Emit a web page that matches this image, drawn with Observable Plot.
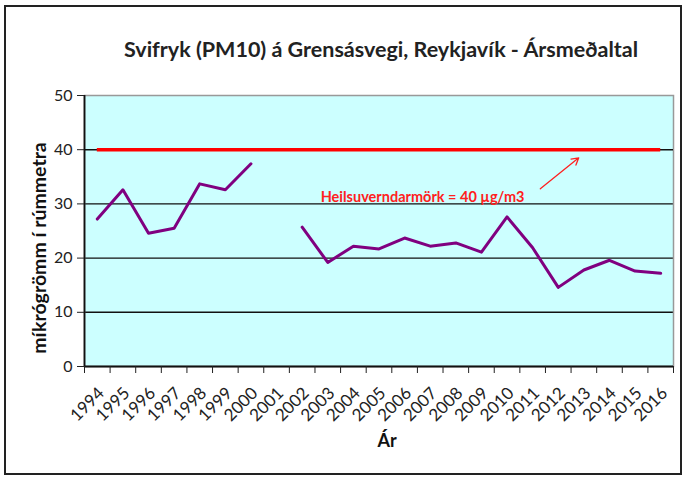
<!DOCTYPE html>
<html><head><meta charset="utf-8">
<script src="https://cdn.jsdelivr.net/npm/d3@7"></script>
<script src="https://cdn.jsdelivr.net/npm/@observablehq/plot@0.6"></script>
<style>
body{margin:0;background:#fff;}
#wrap{position:relative;width:686px;height:477px;overflow:hidden;}
#border{position:absolute;left:4px;top:5px;width:674px;height:466px;border:2px solid #222;pointer-events:none;}
</style></head><body>
<div id="wrap"><div id="chart"></div><div id="border"></div></div>
<script>
const years = [1994,1995,1996,1997,1998,1999,2000,2001,2002,2003,2004,2005,2006,2007,2008,2009,2010,2011,2012,2013,2014,2015,2016];
const pm10 = [27.2,32.6,24.6,25.5,33.7,32.6,37.4,null,25.7,19.2,22.2,21.7,23.7,22.2,22.8,21.1,27.6,21.9,14.6,17.8,19.6,17.6,17.2];
const limitValue = 40;
const yTicks = [0,10,20,30,40,50];
const gridValues = [10,20,30];
const titleText = "Svifryk (PM10) á Grensásvegi, Reykjavík - Ársmeðaltal";
const yLabel = "míkrógrömm í rúmmetra";
const xLabel = "Ár";
const noteText = "Heilsuverndarmörk = 40 µg/m3";
const notePos = [2006.7, 31.2];
const arrowFrom = [2011.3, 32.8];
const arrowTo = [2012.8, 38.5];

const data = years.map((year, i) => ({year, value: pm10[i]}));
const bounds = years.map(y => y - 0.5).concat([years[years.length - 1] + 0.5]);

const chart = Plot.plot({
  width: 686,
  height: 477,
  marginLeft: 84,
  marginRight: 13,
  marginTop: 95,
  marginBottom: 111,
  style: {fontFamily: "Lato, 'Open Sans', sans-serif", color: "#222", background: "transparent"},
  x: {domain: [years[0] - 0.5, years[years.length - 1] + 0.5]},
  y: {domain: [0, 50]},
  marks: [
    Plot.frame({fill: "#ccffff", stroke: null}),
    Plot.ruleY(gridValues, {stroke: "#111", strokeWidth: 1.4}),
    Plot.frame({stroke: "#999", strokeWidth: 1.5}),
    Plot.ruleY([limitValue], {x1: years[0] - 0.5, x2: years[years.length - 1] + 0.5, stroke: "#111", strokeWidth: 1.4}),
    Plot.ruleY([limitValue], {x1: years[0], x2: years[years.length - 1], stroke: "#ff0000", strokeWidth: 3.5}),
    Plot.line(data, {x: "year", y: "value", stroke: "#800080", strokeWidth: 3}),
    Plot.text([noteText], {x: () => notePos[0], y: () => notePos[1], text: d => d, fill: "#ff2020", fontSize: 14.5, fontWeight: "bold"}),
    Plot.arrow([0], {x1: () => arrowFrom[0], y1: () => arrowFrom[1], x2: () => arrowTo[0], y2: () => arrowTo[1], stroke: "#ff2020", strokeWidth: 1.3, headLength: 9}),
    Plot.ruleX([years[0] - 0.5], {stroke: "#111", strokeWidth: 1.8}),
    Plot.ruleY([0], {stroke: "#111", strokeWidth: 1.8}),
    Plot.axisY({ticks: yTicks, tickSize: 7, tickPadding: 5, fontSize: 16, label: null, tickFormat: d => String(d)}),
    Plot.axisX({ticks: bounds, tickSize: 7, tickFormat: () => "", label: null}),
    Plot.axisX({ticks: years, tickSize: 0, tickPadding: 24, dx: 4, tickRotate: -45, fontSize: 17, tickFormat: d => String(d), label: null}),
    Plot.text([titleText], {frameAnchor: "top", dy: -54, dx: 2, text: d => d, fontSize: 21.5, fontWeight: "bold", fill: "#222"}),
    Plot.text([yLabel], {frameAnchor: "left", textAnchor: "middle", dx: -45, dy: 17, rotate: -90, text: d => d, fontSize: 19.5, fontWeight: "bold", fill: "#111"}),
    Plot.text([xLabel], {frameAnchor: "bottom", dy: 80, dx: 8, text: d => d, fontSize: 18, fontWeight: "bold", fill: "#111"})
  ]
});
document.getElementById("chart").appendChild(chart);
</script>
</body></html>
